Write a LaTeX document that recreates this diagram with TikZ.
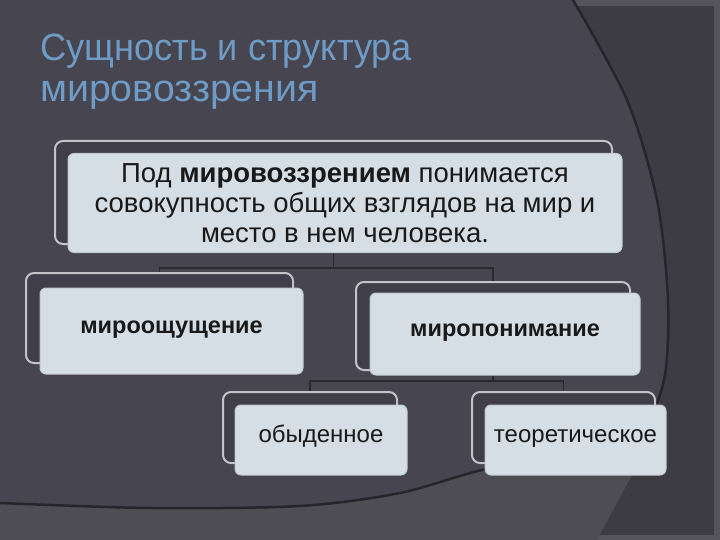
\documentclass[tikz,border=0pt]{standalone}
\usepackage{fontspec}
\setmainfont{Liberation Sans}
\newfontfamily\titlefont{Liberation Sans}
\definecolor{bgframe}{HTML}{55545A}
\definecolor{bgdark}{HTML}{3D3C42}
\definecolor{bgband}{HTML}{4E4D53}
\definecolor{bgmain}{HTML}{47454F}
\definecolor{rimline}{HTML}{26252B}
\definecolor{titleblue}{HTML}{6E9CC6}
\definecolor{boxfill}{HTML}{D4DEE4}
\definecolor{boxline}{HTML}{BFC9CF}
\definecolor{backfill}{HTML}{403E48}
\definecolor{backline}{HTML}{C2C2C8}
\definecolor{connline}{HTML}{2A2930}

\begin{document}
\begin{tikzpicture}[x=1pt,y=-1pt,
    front/.style={draw=boxline,line width=1pt,fill=boxfill,rounded corners=6pt,
      inner sep=0pt,text=black!90,align=center},
    single/.style={text height=0.75em,text depth=0.25em},
    back/.style={draw=backline,line width=2pt,fill=backfill,rounded corners=8pt,inner sep=0pt},
    conn/.style={draw=connline,line width=1.2pt}]
      \useasboundingbox (0,0) rectangle (720,540);
      \fill[bgframe] (0,0) rectangle (720,540);
      \fill[bgdark] (0,6) rectangle (714,535);
      \fill[bgband] (-5,420) -- (662,420) -- (594,545) -- (-5,545) -- cycle;
      \filldraw[fill=bgmain,draw=rimline,line width=2.5pt] (-5,-5) -- (571,-5)
        -- plot[smooth] coordinates {(573,0) (627,100) (657,200) (668,300) (664,380)
          (640,425) (560,458) (482,470) (400,493) (300,506) (150,508) (0,503)}
        -- (-5,503) -- cycle;

      \node[text=titleblue,anchor=base west,align=left,inner sep=0pt,
        font=\titlefont\fontsize{38}{41}\selectfont] (TT) at (40,102)
        {\scalebox{0.953}[1]{Сущность и структура}\\\scalebox{1.033}[1]{мировоззрения}};

      \node[back,minimum width=557pt,minimum height=103pt] (MVb) at (333.5,192.5) {};
      \node[back,minimum width=267pt,minimum height=90pt] (MOb) at (159.5,318) {};
      \node[back,minimum width=274pt,minimum height=88pt] (MPb) at (493,326) {};
      \node[back,minimum width=174pt,minimum height=71pt] (OBb) at (310,427.5) {};
      \node[back,minimum width=183pt,minimum height=71pt] (TEb) at (563.5,427.5) {};

      \draw[conn] (MVb.south) -- ++(0,23) -| (MOb.north);
      \draw[conn] (MVb.south) -- ++(0,23) -| (MPb.north);
      \draw[conn] (MPb.south) -- ++(0,10) -| (OBb.north);
      \draw[conn] (MPb.south) -- ++(0,10) -| (TEb.north);

      \node[front,minimum width=554pt,minimum height=99pt,font=\fontsize{27.5}{30}\selectfont] (MV) at (345,203)
        {Под \textbf{мировоззрением} понимается\\совокупность общих взглядов на мир и\\место в нем человека.};
      \node[front,single,minimum width=263pt,minimum height=86pt,font=\fontsize{23.5}{26}\selectfont\bfseries] (MO) at (171.5,331) {мироощущение};
      \node[front,single,minimum width=270pt,minimum height=82pt,font=\fontsize{23.5}{26}\selectfont\bfseries] (MP) at (505,334) {миропонимание};
      \node[front,single,minimum width=172pt,minimum height=70pt,font=\fontsize{24}{28}\selectfont] (OB) at (321,440) {обыденное};
      \node[front,single,minimum width=181pt,minimum height=70pt,font=\fontsize{24}{28}\selectfont] (TE) at (575.5,440) {теоретическое};
    \end{tikzpicture}
\end{document}
